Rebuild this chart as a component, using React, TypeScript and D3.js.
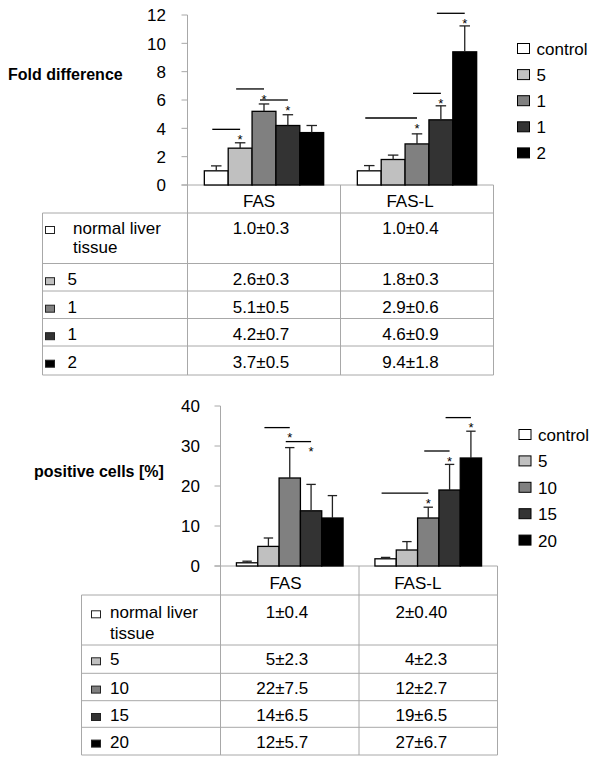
import React from "react";
import * as d3 from "d3";

// ---------- shared ----------
const categories = ["FAS", "FAS-L"];
const seriesColors = ["#ffffff", "#c0c0c0", "#808080", "#333333", "#000000"];
const tableFirstRowLabel = ["normal liver", "tissue"];

// ---------- panel A: fold difference ----------
const foldLegend = ["control", "5", "1", "1", "2"];
const foldTicks = [0, 2, 4, 6, 8, 10, 12];
const foldFAS = [1.0, 2.6, 5.2, 4.2, 3.7];
const foldFASErr = [0.35, 0.38, 0.52, 0.76, 0.5];
const foldFASL = [1.0, 1.8, 2.9, 4.6, 9.4];
const foldFASLErr = [0.37, 0.31, 0.71, 0.99, 1.83];
const foldSigCat = ["FAS", "FAS", "FAS", "FAS-L", "FAS-L", "FAS-L"];
const foldSigFrom = [0, 1, 2, 0, 2, 3];
const foldSigTo = [1, 2, 3, 2, 3, 4];
const foldSigLevel = [3.93, 6.78, 6.0, 4.73, 6.47, 12.12];
const foldRowLabels = ["", "5", "1", "1", "2"];
const foldTableFAS = ["1.0±0.3", "2.6±0.3", "5.1±0.5", "4.2±0.7", "3.7±0.5"];
const foldTableFASL = ["1.0±0.4", "1.8±0.3", "2.9±0.6", "4.6±0.9", "9.4±1.8"];

// ---------- panel B: positive cells ----------
const posLegend = ["control", "5", "10", "15", "20"];
const posTicks = [0, 10, 20, 30, 40];
const posFAS = [0.8, 4.9, 22, 13.8, 12];
const posFASErr = [0.4, 2.1, 7.6, 6.6, 5.6];
const posFASL = [1.8, 4.0, 12, 19, 27];
const posFASLErr = [0.35, 2.1, 2.7, 6.4, 6.7];
const posSigCat = ["FAS", "FAS", "FAS-L", "FAS-L", "FAS-L"];
const posSigFrom = [1, 2, 0, 2, 3];
const posSigTo = [2, 3, 2, 3, 4];
const posSigLevel = [34.6, 31.1, 18.2, 28.75, 37.1];
const posRowLabels = ["", "5", "10", "15", "20"];
const posTableFAS = ["1±0.4", "5±2.3", "22±7.5", "14±6.5", "12±5.7"];
const posTableFASL = ["2±0.40", "4±2.3", "12±2.7", "19±6.5", "27±6.7"];

const FONT = "'Liberation Sans', Arial, Helvetica, sans-serif";
const GRID = "#a8a8a8";

type PanelProps = {
  yLabel: string;
  yLabelX: number;
  yLabelY: number;
  yMax: number;
  ticks: number[];
  axisX: number;
  right: number;
  yTop: number;
  y0: number;
  tickLabelX: number;
  pad: number;
  fas: number[];
  fasErr: number[];
  fasl: number[];
  faslErr: number[];
  sigCat: string[];
  sigFrom: number[];
  sigTo: number[];
  sigLevel: number[];
  legend: string[];
  legendSqX: number;
  legendTextX: number;
  legendBase: number;
  legendStep: number;
  tableLeft: number;
  rows: number[];
  headerBase: number;
  headerOffsets: number[];
  firstRowBase: number[];
  rowBaseOffset: number;
  rowLabels: string[];
  sqX: number;
  firstTextX: number;
  textX: number;
  tableFAS: string[];
  tableFASL: string[];
  valueAnchor: "middle" | "end";
  valueOffsets: number[];
};

function Panel(p: PanelProps) {
  const y = d3.scaleLinear().domain([0, p.yMax]).range([p.y0, p.yTop]);
  const x = d3.scaleBand<string>().domain(categories).range([p.axisX, p.right]);
  const bw = x.bandwidth();
  const inner = d3
    .scaleBand<number>()
    .domain(d3.range(5))
    .range([bw * p.pad, bw * (1 - p.pad)]);
  const vals = [p.fas, p.fasl];
  const errs = [p.fasErr, p.faslErr];
  const cx = (cat: string, i: number) => (x(cat) as number) + (inner(i) as number) + inner.bandwidth() / 2;
  const capHalf = inner.bandwidth() * 0.22;
  const tableRight = p.right;
  const tableBottom = p.rows[p.rows.length - 1];

  return (
    <g fontFamily={FONT}>
      {/* y label */}
      <text x={p.yLabelX} y={p.yLabelY} fontSize={16} fontWeight="bold" fill="#000">
        {p.yLabel}
      </text>
      {/* y axis */}
      <line x1={p.axisX} x2={p.axisX} y1={y(p.yMax)} y2={tableBottom} stroke={GRID} strokeWidth={1} />
      {p.ticks.map((t) => (
        <g key={t}>
          <line x1={p.axisX - 6} x2={p.axisX} y1={y(t)} y2={y(t)} stroke={GRID} strokeWidth={1} />
          <text x={p.tickLabelX} y={y(t) + 6.3} fontSize={17} textAnchor="end" fill="#000">
            {t}
          </text>
        </g>
      ))}
      {/* x axis */}
      <line x1={p.axisX - 6} x2={tableRight} y1={y(0)} y2={y(0)} stroke={GRID} strokeWidth={1} />
      {/* table grid */}
      {categories.map((c, ci) =>
        ci > 0 ? (
          <line key={c} x1={x(c)} x2={x(c)} y1={y(0)} y2={tableBottom} stroke={GRID} strokeWidth={1} />
        ) : null
      )}
      <line x1={tableRight} x2={tableRight} y1={y(0)} y2={tableBottom} stroke={GRID} strokeWidth={1} />
      <line x1={p.tableLeft} x2={p.tableLeft} y1={p.rows[0]} y2={tableBottom} stroke={GRID} strokeWidth={1} />
      {p.rows.map((r, i) => (
        <line key={i} x1={p.tableLeft} x2={tableRight} y1={r} y2={r} stroke={GRID} strokeWidth={1} />
      ))}
      {/* bars */}
      {categories.map((c, ci) =>
        vals[ci].map((v, i) => (
          <rect
            key={c + i}
            x={(x(c) as number) + (inner(i) as number)}
            y={y(v)}
            width={inner.bandwidth()}
            height={y(0) - y(v)}
            fill={seriesColors[i]}
            stroke="#000"
            strokeWidth={1.3}
          />
        ))
      )}
      {/* error bars */}
      {categories.map((c, ci) =>
        vals[ci].map((v, i) => {
          const xc = cx(c, i);
          const top = y(v + errs[ci][i]);
          return (
            <g key={"e" + c + i} stroke="#222" strokeWidth={1.3}>
              <line x1={xc} x2={xc} y1={y(v)} y2={top} />
              <line x1={xc - capHalf} x2={xc + capHalf} y1={top} y2={top} />
            </g>
          );
        })
      )}
      {/* significance */}
      {p.sigLevel.map((lv, k) => {
        const x1 = cx(p.sigCat[k], p.sigFrom[k]) - 4;
        const x2 = cx(p.sigCat[k], p.sigTo[k]);
        const ly = y(lv);
        return (
          <g key={"s" + k}>
            <line x1={x1} x2={x2} y1={ly} y2={ly} stroke="#000" strokeWidth={1.3} />
            <text x={x2} y={ly + 14.7} fontSize={13} textAnchor="middle" fill="#000">
              *
            </text>
          </g>
        );
      })}
      {/* legend */}
      {p.legend.map((l, i) => {
        const base = p.legendBase + i * p.legendStep;
        return (
          <g key={"l" + i}>
            <rect
              x={p.legendSqX}
              y={base - 11.5}
              width={12}
              height={10}
              fill={seriesColors[i]}
              stroke="#000"
              strokeWidth={1}
            />
            <text x={p.legendTextX} y={base} fontSize={17} fill="#000">
              {l}
            </text>
          </g>
        );
      })}
      {/* table header */}
      {categories.map((c, ci) => (
        <text
          key={"h" + c}
          x={(x(c) as number) + bw / 2 + p.headerOffsets[ci]}
          y={p.headerBase}
          fontSize={17}
          textAnchor="middle"
          fill="#000"
        >
          {c}
        </text>
      ))}
      {/* table rows */}
      {p.rowLabels.map((lab, i) => {
        const rowTop = p.rows[i];
        const base = i === 0 ? p.firstRowBase[0] : rowTop + p.rowBaseOffset;
        const cols = [p.tableFAS[i], p.tableFASL[i]];
        return (
          <g key={"r" + i}>
            <rect
              x={p.sqX}
              y={base - 7.5}
              width={9}
              height={7}
              fill={seriesColors[i]}
              stroke="#222"
              strokeWidth={1}
            />
            {i === 0 ? (
              <>
                <text x={p.firstTextX} y={p.firstRowBase[0]} fontSize={17} fill="#000">
                  {tableFirstRowLabel[0]}
                </text>
                <text x={p.firstTextX} y={p.firstRowBase[1]} fontSize={17} fill="#000">
                  {tableFirstRowLabel[1]}
                </text>
              </>
            ) : (
              <text x={p.textX} y={base} fontSize={17} fill="#000">
                {lab}
              </text>
            )}
            {categories.map((c, ci) => {
              const xv =
                p.valueAnchor === "middle"
                  ? (x(c) as number) + bw / 2 + p.valueOffsets[ci]
                  : (x(c) as number) + p.valueOffsets[ci];
              return (
                <text key={c} x={xv} y={base} fontSize={17} textAnchor={p.valueAnchor} fill="#000">
                  {cols[ci]}
                </text>
              );
            })}
          </g>
        );
      })}
    </g>
  );
}

export default function App() {
  return (
    <svg
      width={600}
      height={764}
      viewBox="0 0 600 764"
      style={{ position: "absolute", left: 0, top: 0, background: "#fff" }}
    >
      <rect x={0} y={0} width={600} height={764} fill="#fff" />
      <Panel
        yLabel="Fold difference"
        yLabelX={8}
        yLabelY={79.5}
        yMax={12}
        ticks={foldTicks}
        axisX={187.5}
        right={493.5}
        yTop={15}
        y0={185}
        tickLabelX={166}
        pad={0.11}
        fas={foldFAS}
        fasErr={foldFASErr}
        fasl={foldFASL}
        faslErr={foldFASLErr}
        sigCat={foldSigCat}
        sigFrom={foldSigFrom}
        sigTo={foldSigTo}
        sigLevel={foldSigLevel}
        legend={foldLegend}
        legendSqX={517.5}
        legendTextX={536.5}
        legendBase={55}
        legendStep={26.1}
        tableLeft={42.5}
        rows={[213, 263.5, 291, 318.5, 346, 375]}
        headerBase={206.5}
        headerOffsets={[-5, -7]}
        firstRowBase={[234, 253]}
        rowBaseOffset={21.7}
        rowLabels={foldRowLabels}
        sqX={45.5}
        firstTextX={73}
        textX={67.5}
        tableFAS={foldTableFAS}
        tableFASL={foldTableFASL}
        valueAnchor="middle"
        valueOffsets={[-3, -6.5]}
      />
      <Panel
        yLabel="positive cells [%]"
        yLabelX={34}
        yLabelY={477}
        yMax={40}
        ticks={posTicks}
        axisX={220.5}
        right={497.5}
        yTop={406}
        y0={566}
        tickLabelX={200}
        pad={0.115}
        fas={posFAS}
        fasErr={posFASErr}
        fasl={posFASL}
        faslErr={posFASLErr}
        sigCat={posSigCat}
        sigFrom={posSigFrom}
        sigTo={posSigTo}
        sigLevel={posSigLevel}
        legend={posLegend}
        legendSqX={519}
        legendTextX={538}
        legendBase={441}
        legendStep={26.4}
        tableLeft={81.5}
        rows={[595, 645, 673.3, 700.7, 727.3, 755]}
        headerBase={589.3}
        headerOffsets={[-4.3, -10.5]}
        firstRowBase={[618.3, 639]}
        rowBaseOffset={20.3}
        rowLabels={posRowLabels}
        sqX={91.5}
        firstTextX={110}
        textX={110}
        tableFAS={posTableFAS}
        tableFASL={posTableFASL}
        valueAnchor="end"
        valueOffsets={[87.7, 88.3]}
      />
    </svg>
  );
}
